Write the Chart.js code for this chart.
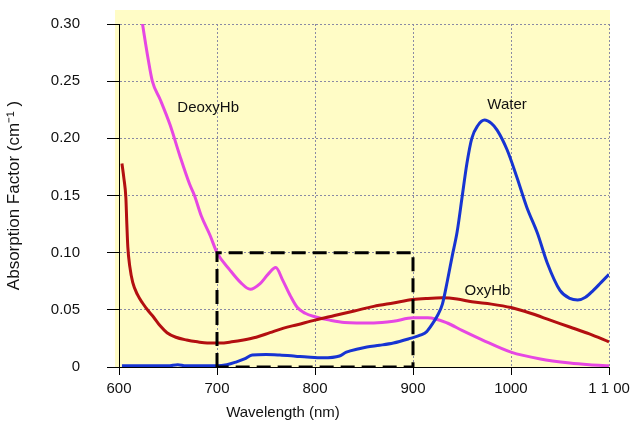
<!DOCTYPE html>
<html>
<head>
<meta charset="utf-8">
<script src="https://cdn.jsdelivr.net/npm/chart.js@4.4.0/dist/chart.umd.min.js"></script>
<style>
  body { margin: 0; background: #fff; }
</style>
</head>
<body>
<canvas id="chart" width="630" height="428"></canvas>
<script>
// values (wavelength in nm, absorption in cm-1)
const deoxyWl = [618, 624, 630, 634, 642, 652, 662, 672, 677, 684, 693, 700, 713, 724, 734, 744, 752, 760, 767, 775, 782, 790, 800, 815, 830, 860, 880, 900, 915, 935, 950, 970, 1000, 1030, 1060, 1080, 1100];
const deoxyVal = [0.335, 0.300, 0.268, 0.250, 0.234, 0.212, 0.185, 0.160, 0.150, 0.132, 0.115, 0.100, 0.085, 0.074, 0.068, 0.073, 0.081, 0.087, 0.076, 0.062, 0.052, 0.047, 0.044, 0.041, 0.039, 0.0385, 0.040, 0.043, 0.043, 0.0385, 0.032, 0.024, 0.013, 0.007, 0.0035, 0.002, 0.001];

const oxyWl = [603, 605, 607, 608, 609, 611, 614, 619, 624, 630, 635, 642, 649, 658, 669, 680, 690, 703, 715, 727, 740, 754, 768, 782, 800, 820, 840, 860, 880, 900, 915, 930, 945, 960, 980, 1000, 1020, 1040, 1060, 1080, 1100];
const oxyVal = [0.178, 0.165, 0.148, 0.125, 0.105, 0.088, 0.074, 0.063, 0.056, 0.049, 0.044, 0.036, 0.030, 0.026, 0.0236, 0.022, 0.021, 0.021, 0.022, 0.0236, 0.026, 0.030, 0.034, 0.037, 0.041, 0.045, 0.049, 0.053, 0.056, 0.059, 0.060, 0.0605, 0.0595, 0.057, 0.055, 0.052, 0.047, 0.041, 0.035, 0.029, 0.022];

const waterWl = [603, 650, 660, 668, 700, 710, 720, 728, 736, 750, 764, 780, 792, 808, 825, 832, 845, 853, 866, 880, 897, 908, 914, 920, 925, 930, 935, 940, 945, 950, 955, 960, 966, 973, 980, 986, 996, 1006, 1016, 1027, 1037, 1050, 1060, 1068, 1076, 1084, 1092, 1100];
const waterVal = [0.001, 0.001, 0.002, 0.001, 0.001, 0.002, 0.0045, 0.007, 0.0105, 0.011, 0.0105, 0.0095, 0.0087, 0.008, 0.0096, 0.013, 0.016, 0.0175, 0.019, 0.021, 0.025, 0.028, 0.031, 0.038, 0.045, 0.055, 0.075, 0.097, 0.118, 0.148, 0.178, 0.200, 0.211, 0.216, 0.213, 0.207, 0.190, 0.166, 0.140, 0.117, 0.091, 0.067, 0.060, 0.0586, 0.061, 0.067, 0.074, 0.081];

// the dashed window 700-900 nm
const boxWl = [700, 700, 900, 900, 700];
const boxVal = [0, 0.10, 0.10, 0, 0];

const xTickLabels = ['600', '700', '800', '900', '1000', '1 1 00'];
const yTickLabels = ['0', '0.05', '0.10', '0.15', '0.20', '0.25', '0.30'];

// curve names placed on the plot (wavelength, value)
const curveNames = [
  { text: 'DeoxyHb', x: 691, y: 0.2265 },
  { text: 'Water', x: 996, y: 0.229 },
  { text: 'OxyHb', x: 976, y: 0.0665 }
];

const FONT = "'Liberation Sans', Arial, sans-serif";

function toPoints(wl, val) {
  return wl.map((x, i) => ({ x: x, y: val[i] }));
}

const backdrop = {
  id: 'backdrop',
  beforeDraw(chart) {
    const { ctx, chartArea } = chart;
    ctx.save();
    ctx.fillStyle = '#fffcc6';
    ctx.fillRect(chartArea.left - 4, chartArea.top - 14, chartArea.width + 5, chartArea.height + 14);
    ctx.restore();
  },
  afterDraw(chart) {
    const { ctx, scales } = chart;
    ctx.save();
    ctx.fillStyle = '#111';
    ctx.font = '15px ' + FONT;
    ctx.textAlign = 'center';
    ctx.textBaseline = 'middle';
    curveNames.forEach(n => {
      ctx.fillText(n.text, scales.x.getPixelForValue(n.x), scales.y.getPixelForValue(n.y));
    });
    // x axis title sits left of centre in the original
    ctx.fillText('Wavelength (nm)', 283, 413);
    ctx.restore();
  }
};

const lineStyle = {
  fill: false,
  pointRadius: 0,
  borderWidth: 3,
  tension: 0.3,
  cubicInterpolationMode: 'monotone'
};

new Chart(document.getElementById('chart'), {
  type: 'line',
  data: {
    datasets: [
      Object.assign({ label: 'Box', data: toPoints(boxWl, boxVal), borderColor: '#000', borderDash: [14, 7], order: 0 }, lineStyle, { tension: 0, cubicInterpolationMode: 'default' }),
      Object.assign({ label: 'Water', data: toPoints(waterWl, waterVal), borderColor: '#1734d2', order: 1 }, lineStyle),
      Object.assign({ label: 'OxyHb', data: toPoints(oxyWl, oxyVal), borderColor: '#b30f10', order: 2 }, lineStyle),
      Object.assign({ label: 'DeoxyHb', data: toPoints(deoxyWl, deoxyVal), borderColor: '#e647e3', order: 3 }, lineStyle)
    ]
  },
  options: {
    responsive: false,
    animation: false,
    layout: { padding: { top: 24, right: 21, left: 0, bottom: 0 } },
    plugins: {
      legend: { display: false },
      tooltip: { enabled: false }
    },
    scales: {
      x: {
        type: 'linear',
        min: 600,
        max: 1100,
        ticks: {
          stepSize: 100,
          padding: 5,
          color: '#111',
          font: { family: FONT, size: 15 },
          maxRotation: 0,
          callback: (v, i) => xTickLabels[i]
        },
        grid: { color: '#8a8aa4', tickColor: '#000', tickLength: 8, tickBorderDash: [] },
        border: { color: '#000', width: 1, dash: [2, 2] },
        afterFit: s => {
          s.height = 61;
          s.paddingLeft = 0;
          s.paddingRight = 0;
        }
      },
      y: {
        min: 0,
        max: 0.3,
        ticks: {
          stepSize: 0.05,
          padding: 27,
          color: '#111',
          font: { family: FONT, size: 15 },
          callback: (v, i) => yTickLabels[i]
        },
        grid: { color: '#8a8aa4', tickColor: '#000', tickLength: 12, tickBorderDash: [] },
        border: { color: '#000', width: 1, dash: [2, 2] },
        title: {
          display: true,
          text: 'Absorption Factor (cm⁻¹ )',
          color: '#111',
          font: { family: FONT, size: 17 },
          padding: { top: 4, bottom: 0 }
        },
        afterFit: s => {
          s.width = 119;
          s.paddingTop = 0;
          s.paddingBottom = 0;
        }
      }
    }
  },
  plugins: [backdrop]
});
</script>
</body>
</html>
